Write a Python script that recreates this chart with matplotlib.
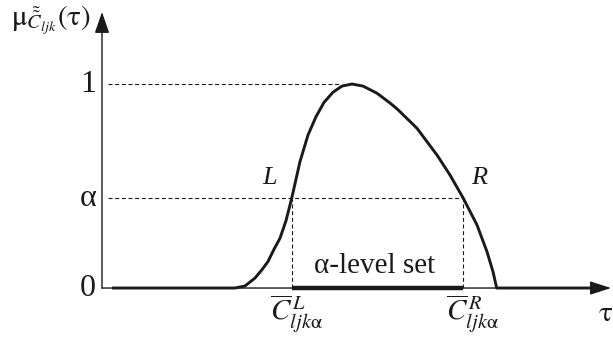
import numpy as np
import matplotlib.pyplot as plt

plt.rcParams['font.family'] = ['Liberation Serif', 'DejaVu Serif']
plt.rcParams['mathtext.fontset'] = 'stix'

# membership function mu(tau)
tau_left = [1.0, 13.3, 14.3, 15.3, 16.0, 16.6, 17.2, 17.8, 18.4, 18.97,
            19.8, 20.6, 21.4, 22.2, 23.1, 24.0, 25.0]
mu_left = [0.0, 0.0, 0.01, 0.049, 0.09, 0.13, 0.19, 0.244, 0.33, 0.44,
           0.62, 0.75, 0.84, 0.91, 0.96, 0.99, 1.0]
tau_right = [26.1, 27.5, 28.8, 29.6, 31.5, 33.5, 34.8, 36.13, 37.5, 38.5,
             39.1, 39.47, 49.3]
mu_right = [0.99, 0.955, 0.907, 0.874, 0.783, 0.652, 0.554, 0.44, 0.309,
            0.178, 0.08, 0.0, 0.0]

alpha = 0.44
tau_L = 18.97   # left end of the alpha-cut
tau_R = 36.13   # right end of the alpha-cut
tau_peak = 25.0

tick_vals = [0, alpha, 1]
tick_labels = ['0', 'α', '1']

tau = np.array(tau_left + tau_right)
mu = np.array(mu_left + mu_right)

col = '#1a1a1a'

fig = plt.figure(figsize=(6.13, 3.38), dpi=100)
ax = fig.add_axes([0, 0, 1, 1])
ax.set_xlim(-10.2, 51.1)
ax.set_ylim(-0.245, 1.412)
ax.axis('off')

# axes with arrow heads
ax.annotate('', xy=(0, 1.353), xytext=(0, 0),
            arrowprops=dict(arrowstyle='-|>,head_length=13,head_width=4.5',
                            mutation_scale=1, lw=1.0, color=col,
                            shrinkA=0, shrinkB=0))
ax.annotate('', xy=(50.9, 0), xytext=(0, 0),
            arrowprops=dict(arrowstyle='-|>,head_length=13,head_width=4.2',
                            mutation_scale=1, lw=1.0, color=col,
                            shrinkA=0, shrinkB=0))

# dashed guide lines
dash = (0, (3.6, 2.4))
ax.plot([0.6, tau_peak - 1.2], [1, 1], color=col, lw=0.8, ls=dash)
ax.plot([0.6, tau_R], [alpha, alpha], color=col, lw=0.8, ls=dash)
ax.plot([tau_L, tau_L], [0, alpha], color=col, lw=0.8, ls=dash)
ax.plot([tau_R, tau_R], [0, alpha], color=col, lw=0.8, ls=dash)

# membership curve
ax.plot(tau, mu, color=col, lw=2.1, solid_joinstyle='round',
        solid_capstyle='butt')

# alpha-level set
ax.plot([tau_L, tau_R], [0, 0], color=col, lw=3.2, solid_capstyle='butt')

for v, s in zip(tick_vals, tick_labels):
    ax.text(-1.4, v, s, ha='center', va='center', fontsize=23, color=col)

ax.text(16.8, 0.54, 'L', style='italic', ha='center', va='center',
        fontsize=19, color=col)
ax.text(37.7, 0.54, 'R', style='italic', ha='center', va='center',
        fontsize=19, color=col)
ax.text(27.3, 0.11, 'α-level set', ha='center', va='center',
        fontsize=21, color=col)

ax.text(19.5, -0.125, r'$\overline{C}^{\,L}_{ljk\mathrm{\alpha}}$',
        ha='center', va='center', fontsize=21, color=col)
ax.text(37.1, -0.125, r'$\overline{C}^{\,R}_{ljk\mathrm{\alpha}}$',
        ha='center', va='center', fontsize=21, color=col)

ax.text(-9.1, 1.287, r'$\mathrm{\mu}_{\tilde{\tilde{C}}_{ljk}}(\mathrm{\tau})$',
        ha='left', va='baseline', fontsize=21, color=col)
ax.text(51.05, -0.125, r'$\mathrm{\tau}$', ha='right', va='center',
        fontsize=21, color=col)

fig.savefig('out.png', dpi=100)
